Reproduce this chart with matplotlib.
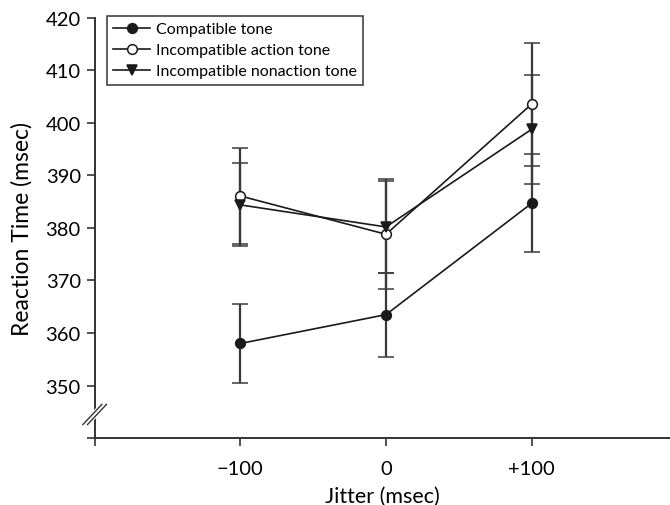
import numpy as np
import matplotlib.pyplot as plt
from matplotlib.lines import Line2D

plt.rcParams['font.family'] = ['Lato', 'DejaVu Sans']

jitter = [-100, 0, 100]
compatible = [358.0, 363.5, 384.7]
compatible_err = [7.6, 8.0, 9.3]
action = [386.1, 378.8, 403.6]
action_err = [9.2, 10.5, 11.7]
nonaction = [384.4, 380.2, 398.8]
nonaction_err = [7.9, 8.8, 10.4]

series_names = ['Compatible tone', 'Incompatible action tone', 'Incompatible nonaction tone']

x_ticks = [-200, -100, 0, 100]
x_labels = ['', '\u2212100', '0', '+100']
y_ticks = [340, 350, 360, 370, 380, 390, 400, 410, 420]
y_labels = ['', '350', '360', '370', '380', '390', '400', '410', '420']

fig = plt.figure(figsize=(6.7, 5.06), dpi=100)
ax = fig.add_axes([0.1413, 0.1324, 0.8587, 0.8301])

ink = '#1a1a1a'
ecol = '#3a3a3a'
kw = dict(color=ink, lw=1.2, ecolor=ecol, elinewidth=1.6, capsize=6, capthick=1.6,
          markersize=7, markeredgecolor=ink, markeredgewidth=1.1)
styles = [('o', ink), ('o', 'white'), ('v', ink)]
data = [(compatible, compatible_err), (action, action_err), (nonaction, nonaction_err)]
handles = []
for (vals, errs), (mk, fc), name in zip(data, styles, series_names):
    ax.errorbar(jitter, vals, yerr=errs, marker=mk, markerfacecolor=fc, **kw)
    handles.append(Line2D([], [], color=ink, lw=1.2, marker=mk, markersize=7,
                          markerfacecolor=fc, markeredgecolor=ink, markeredgewidth=1.1, label=name))

ax.set_xlim(-200, 195)
ax.set_ylim(340, 420)
ax.set_xticks(x_ticks)
ax.set_xticklabels(x_labels)
ax.set_yticks(y_ticks)
ax.set_yticklabels(y_labels)
ax.tick_params(direction='out', length=6, width=1.2, color='#333333', labelsize=14.5, pad=4)
ax.tick_params(axis='x', pad=10)
for s in ['top', 'right']:
    ax.spines[s].set_visible(False)
for s in ['left', 'bottom']:
    ax.spines[s].set_linewidth(1.4)
    ax.spines[s].set_color('#333333')

ax.set_xlabel('Jitter (msec)', fontsize=15.5, labelpad=6)
ax.set_ylabel('Reaction Time (msec)', fontsize=16.5, labelpad=9)

# axis break marks on the y axis
tr = ax.transAxes
bx = [-0.0165, 0.0165]
by = [0.032, 0.08]
ax.plot(bx, by, color='white', lw=5, transform=tr, clip_on=False, zorder=5)
ax.plot([bx[0] - 0.004, bx[1] - 0.004], by, color='#333333', lw=1, transform=tr, clip_on=False, zorder=6)
ax.plot([bx[0] + 0.004, bx[1] + 0.004], by, color='#333333', lw=1, transform=tr, clip_on=False, zorder=6)

leg = ax.legend(handles=handles, loc='upper left', bbox_to_anchor=(0.0214, 1.005), borderaxespad=0,
                fontsize=11.5, frameon=True, fancybox=False, edgecolor='black',
                handlelength=2.3, handletextpad=0.35, borderpad=0.4, labelspacing=0.42)
leg.get_frame().set_linewidth(1.1)

fig.savefig('out.png', dpi=100)
